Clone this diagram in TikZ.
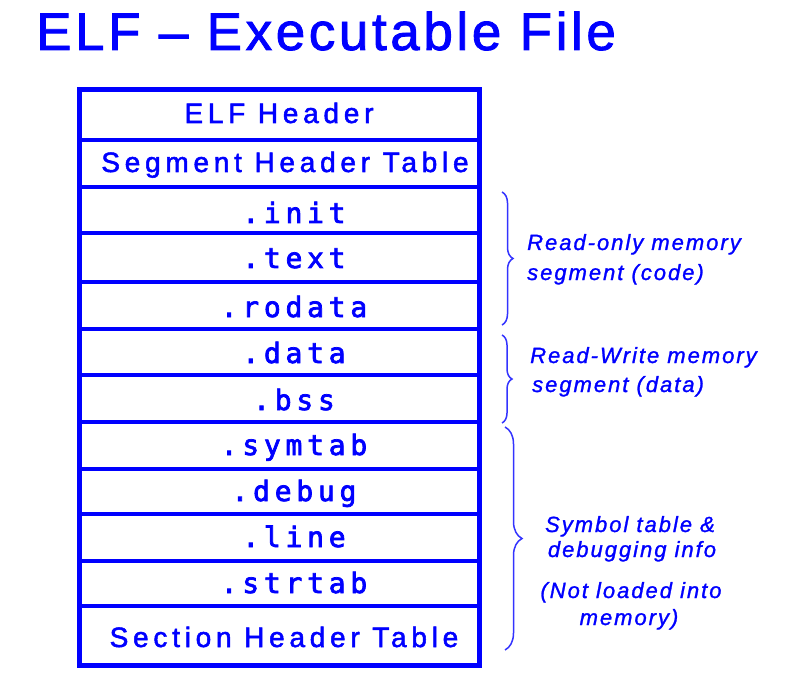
\documentclass[tikz,border=0pt]{standalone}
\usepackage{fontspec}
\setmainfont{Liberation Sans}
\newfontfamily\titlefont[LetterSpace=6.8, FakeBold=1.6]{Liberation Sans}
\newfontfamily\hdrfont[LetterSpace=17, FakeBold=1.8]{Liberation Sans}
\newfontfamily\secfont[LetterSpace=17, FakeBold=2.6]{DejaVu Sans Mono}
\newfontfamily\lblfont[LetterSpace=9, FakeBold=1.2]{Liberation Sans}
\usetikzlibrary{decorations.pathreplacing}
\definecolor{elfblue}{RGB}{0,0,255}
\tikzset{
  titletext/.style={anchor=base west, inner sep=0pt, text=elfblue, font=\titlefont\fontsize{53}{60}\selectfont},
  hdrtext/.style={anchor=base, inner sep=0pt, text=elfblue, font=\hdrfont\fontsize{28}{32}\selectfont},
  sectext/.style={anchor=base, inner sep=0pt, text=elfblue, font=\secfont\fontsize{28}{32}\selectfont},
  lbltext/.style={anchor=base west, inner sep=0pt, text=elfblue, font=\lblfont\itshape\fontsize{22}{26}\selectfont},
  lblctext/.style={lbltext, anchor=base},
  rowline/.style={draw=elfblue, line width=4pt},
  outerbox/.style={draw=elfblue, line width=5pt},
  bracestyle/.style={draw=elfblue!80, line width=1.5pt, decorate, decoration={brace, amplitude=#1}},
}
\begin{document}
\begin{tikzpicture}[x=1pt, y=-1pt]
\useasboundingbox (0,0) rectangle (790,679);
\fill[white] (0,0) rectangle (790,679);
% title
\node[titletext] (title) at (36,50) {ELF – Executable File};
% table grid
\foreach \yy in {140,187,233,282,329,375,422,469,514,561,606} {
  \draw[rowline] (79,\yy) -- (479,\yy);
}
\draw[outerbox] (79,90) rectangle (479,665);
% row texts
\node[hdrtext] (elfhdr) at (279,123) {ELF Header};
\node[hdrtext] (seghdr) at (285,172) {Segment Header Table};
\node[sectext] (init)   at (294,223) {.init};
\node[sectext] (text)   at (294,268) {.text};
\node[sectext] (rodata) at (294,317) {.rodata};
\node[sectext] (data)   at (294,363) {.data};
\node[sectext] (bss)    at (294,410) {.bss};
\node[sectext] (symtab) at (294,455) {.symtab};
\node[sectext] (debug)  at (294,501) {.debug};
\node[sectext] (line)   at (294,547) {.line};
\node[sectext] (strtab) at (294,593) {.strtab};
\node[hdrtext] (sechdr) at (284,647) {Section Header Table};
% braces
\coordinate (b1t) at (502,192); \coordinate (b1b) at (502,325);
\coordinate (b2t) at (502,335); \coordinate (b2b) at (502,423);
\coordinate (b3t) at (505,427); \coordinate (b3b) at (505,650);
\draw[bracestyle=11] (b1t) -- (b1b);
\draw[bracestyle=10] (b2t) -- (b2b);
\draw[bracestyle=17] (b3t) -- (b3b);
% labels
\node[lbltext] (l1a) at (527,250) {Read-only memory};
\node[lbltext] (l1b) at (527,280) {segment (code)};
\node[lbltext] (l2a) at (530,363) {Read-Write memory};
\node[lbltext] (l2b) at (532,392) {segment (data)};
\node[lblctext] (l3a) at (630,532) {Symbol table \&};
\node[lblctext] (l3b) at (632,557) {debugging info};
\node[lblctext] (l3c) at (631,598) {(Not loaded into};
\node[lblctext] (l3d) at (629,625) {memory)};
\end{tikzpicture}
\end{document}
